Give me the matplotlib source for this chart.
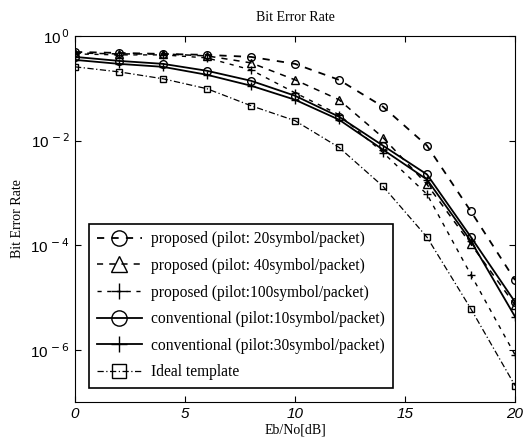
import matplotlib
matplotlib.use("Agg")
import matplotlib.pyplot as plt
import matplotlib.ticker as ticker
import numpy as np

# Eb/No in dB
ebno = [0, 2, 4, 6, 8, 10, 12, 14, 16, 18, 20]

# BER values
ber_p20 = [0.495, 0.474, 0.454, 0.435, 0.398, 0.293, 0.145, 0.0444, 8.0e-3, 4.4e-4, 2.15e-5]
ber_p40 = [0.474, 0.454, 0.454, 0.416, 0.306, 0.145, 0.0604, 0.0114, 1.45e-3, 1.04e-4, 7.2e-6]
ber_p100 = [0.454, 0.435, 0.435, 0.381, 0.225, 0.082, 0.0313, 5.9e-3, 9.4e-4, 2.7e-5, 8.0e-7]
ber_c10 = [0.398, 0.334, 0.293, 0.216, 0.139, 0.072, 0.0286, 8.0e-3, 2.25e-3, 1.42e-4, 8.2e-6]
ber_c30 = [0.349, 0.293, 0.257, 0.181, 0.112, 0.0604, 0.0251, 6.7e-3, 1.8e-3, 1.19e-4, 4.3e-6]
ber_ideal = [0.257, 0.206, 0.152, 0.098, 0.0464, 0.024, 7.4e-3, 1.33e-3, 1.42e-4, 6.0e-6, 2.06e-7]

labels = ["proposed (pilot: 20symbol/packet)",
          "proposed (pilot: 40symbol/packet)",
          "proposed (pilot:100symbol/packet)",
          "conventional (pilot:10symbol/packet)",
          "conventional (pilot:30symbol/packet)",
          "Ideal template"]

serif = "Liberation Serif"

fig = plt.figure(figsize=(5.23, 4.41), dpi=100)
ax = fig.add_axes([0.1434, 0.0884, 0.8413, 0.83])

mk = dict(color="black", markerfacecolor="none", markeredgecolor="black", markersize=5.5)
ax.semilogy(ebno, ber_p20, linestyle=(0, (4, 4)), marker="o", lw=1.3, **mk)
ax.semilogy(ebno, ber_p40, linestyle=(0, (4, 4)), marker="^", lw=1.1, **mk)
ax.semilogy(ebno, ber_p100, linestyle=(0, (3, 4)), marker="+", lw=1.0, **mk)
ax.semilogy(ebno, ber_c10, linestyle="-", marker="o", lw=1.3, **mk)
ax.semilogy(ebno, ber_c30, linestyle="-", marker="+", lw=1.3, **mk)
ax.semilogy(ebno, ber_ideal, linestyle=(0, (5, 2, 1, 2)), marker="s", lw=0.9,
            color="black", markerfacecolor="none", markeredgecolor="black", markersize=5)

ax.set_xlim(0, 20)
ax.set_ylim(1e-7, 1)
ax.xaxis.set_major_locator(ticker.FixedLocator([0, 5, 10, 15, 20]))
ax.yaxis.set_major_locator(ticker.FixedLocator([1, 1e-2, 1e-4, 1e-6]))
ax.yaxis.set_minor_locator(ticker.NullLocator())
ax.yaxis.set_major_formatter(ticker.FuncFormatter(
    lambda v, pos: "10$^{\\,%d}$" % round(np.log10(v))))
ax.tick_params(direction="in", top=True, right=True, length=4, labelsize=11)
for t in ax.get_xticklabels() + ax.get_yticklabels():
    t.set_fontfamily("Liberation Sans")
for t in ax.get_xticklabels():
    t.set_fontstyle("italic")

ax.set_title("Bit Error Rate", fontfamily=serif, fontsize=10, pad=11)
ax.set_xlabel("Eb/No[dB]", fontfamily=serif, fontsize=10, labelpad=2)
ax.set_ylabel("Bit Error Rate", fontfamily=serif, fontsize=10)

leg = ax.legend(labels, loc="lower left", bbox_to_anchor=(0.014, 0.017),
                prop={"family": serif, "size": 11.2}, markerscale=2.0,
                handlelength=2.9, labelspacing=0.68, borderpad=0.5,
                handletextpad=0.6, fancybox=False, framealpha=1, edgecolor="black")
leg.get_frame().set_linewidth(1.2)

fig.savefig("out.png", dpi=100)
